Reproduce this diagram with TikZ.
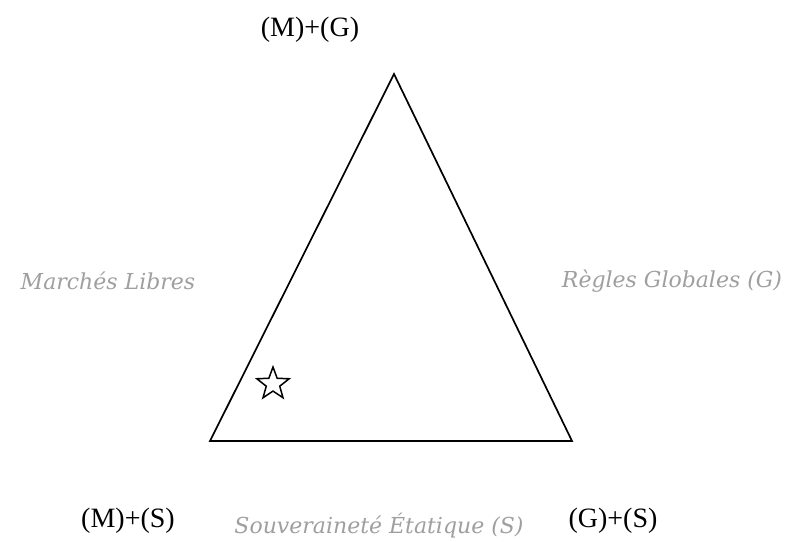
\documentclass[tikz,border=0pt]{standalone}
\usepackage{fontspec}
\setmainfont{Liberation Serif}
\newfontfamily\axefont{DejaVu Serif}
\usepackage{xcolor}
\usepackage{tikz}
\usetikzlibrary{positioning,shapes.geometric}

\begin{document}
\begin{tikzpicture}[x=1pt, y=-1pt, font=\fontsize{28}{32}\selectfont,
    pole/.style={inner sep=1pt},
    axe/.style={inner sep=1pt, gray!75, font=\axefont\fontsize{22}{26}\selectfont\itshape}]
      \useasboundingbox (0,0) rectangle (792,541);
      % sommets du triangle
      \coordinate (haut) at (394,74);
      \coordinate (gauche) at (210,441);
      \coordinate (droite) at (572,441);
      \draw[line width=1.7pt, line join=miter] (haut) -- (droite) -- (gauche) -- cycle;
      \node[star, star points=5, star point ratio=2.4, draw, line width=1.5pt,
        inner sep=0pt, minimum size=34pt] (etoile) at (273,384) {};
      % coins
      \node[pole] (mg) at (310,30) {(M)+(G)};
      \node[pole] (ms) at (128,521) {(M)+(S)};
      \node[pole] (gs) at (613,521) {(G)+(S)};
      % cotes
      \node[axe] (marches) at (108,281) {Marchés Libres};
      \node[axe] (regles) at (672,281) {Règles Globales (G)};
      \node[axe] (souv) at (379,526) {Souveraineté Étatique (S)};
    \end{tikzpicture}
\end{document}
